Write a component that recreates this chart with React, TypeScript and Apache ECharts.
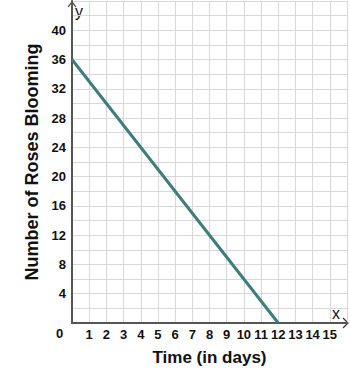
import React, { useEffect, useRef } from "react";
import * as echarts from "echarts";

const lineX = [0, 12];
const lineY = [36, 0];
const xTickLabels = ["1", "2", "3", "4", "5", "6", "7", "8", "9", "10", "11", "12", "13", "14", "15"];
const yTickLabels = ["4", "8", "12", "16", "20", "24", "28", "32", "36", "40"];
const xTitle = "Time (in days)";
const yTitle = "Number of Roses Blooming";

export default function App() {
  const ref = useRef<HTMLDivElement>(null);
  useEffect(() => {
    if (!ref.current) return;
    const chart = echarts.init(ref.current, undefined, { renderer: "svg" });
    const font = "'Liberation Sans', Arial, Helvetica, sans-serif";
    chart.setOption({
      animation: false,
      backgroundColor: "#ffffff",
      grid: { left: 72, right: 0, top: 1, bottom: 50, containLabel: false },
      xAxis: {
        type: "value",
        min: 0,
        max: 16,
        interval: 1,
        name: xTitle,
        nameLocation: "middle",
        nameGap: 26,
        nameTextStyle: { fontFamily: font, fontWeight: "bold", fontSize: 17, color: "#111" },
        axisLine: { show: true, lineStyle: { color: "#555", width: 2 } },
        axisTick: { show: false },
        axisLabel: {
          margin: 5,
          fontFamily: font,
          fontWeight: "bold",
          fontSize: 13,
          color: "#111",
          formatter: (v: number) => (xTickLabels.includes(String(v)) ? String(v) : ""),
        },
        splitLine: { show: true, lineStyle: { color: "#d8d8d8", width: 1 } },
      },
      yAxis: {
        type: "value",
        min: 0,
        max: 44,
        interval: 2,
        name: yTitle,
        nameLocation: "middle",
        nameGap: 25,
        nameTextStyle: { fontFamily: font, fontWeight: "bold", fontSize: 18, color: "#111" },
        axisLine: { show: true, lineStyle: { color: "#555", width: 2 } },
        axisTick: { show: false },
        axisLabel: {
          margin: 6,
          fontFamily: font,
          fontWeight: "bold",
          fontSize: 13,
          color: "#111",
          formatter: (v: number) => (yTickLabels.includes(String(v)) ? String(v) : ""),
        },
        splitLine: { show: true, lineStyle: { color: "#d8d8d8", width: 1 } },
      },
      series: [
        {
          type: "line",
          data: lineX.map((x, i) => [x, lineY[i]]),
          symbol: "none",
          lineStyle: { color: "#3f7d7d", width: 3 },
        },
      ],
      graphic: [
        {
          type: "text",
          left: 56,
          top: 327,
          style: { text: "0", font: `bold 13px ${font}`, fill: "#111" },
        },
        {
          type: "text",
          left: 75,
          top: 3,
          style: { text: "y", font: `16px ${font}`, fill: "#111" },
        },
        {
          type: "text",
          left: 332,
          top: 305,
          style: { text: "x", font: `16px ${font}`, fill: "#111" },
        },
        {
          type: "polyline",
          shape: { points: [[68, 7], [72, 2], [76, 7]] },
          style: { stroke: "#333", lineWidth: 1.2, fill: "none" },
        },
        {
          type: "polyline",
          shape: { points: [[343, 318], [348, 323], [343, 328]] },
          style: { stroke: "#333", lineWidth: 1.2, fill: "none" },
        },
      ],
    });
    return () => chart.dispose();
  }, []);
  return <div ref={ref} style={{ width: 350, height: 373, position: "absolute", left: 0, top: 0 }} />;
}
